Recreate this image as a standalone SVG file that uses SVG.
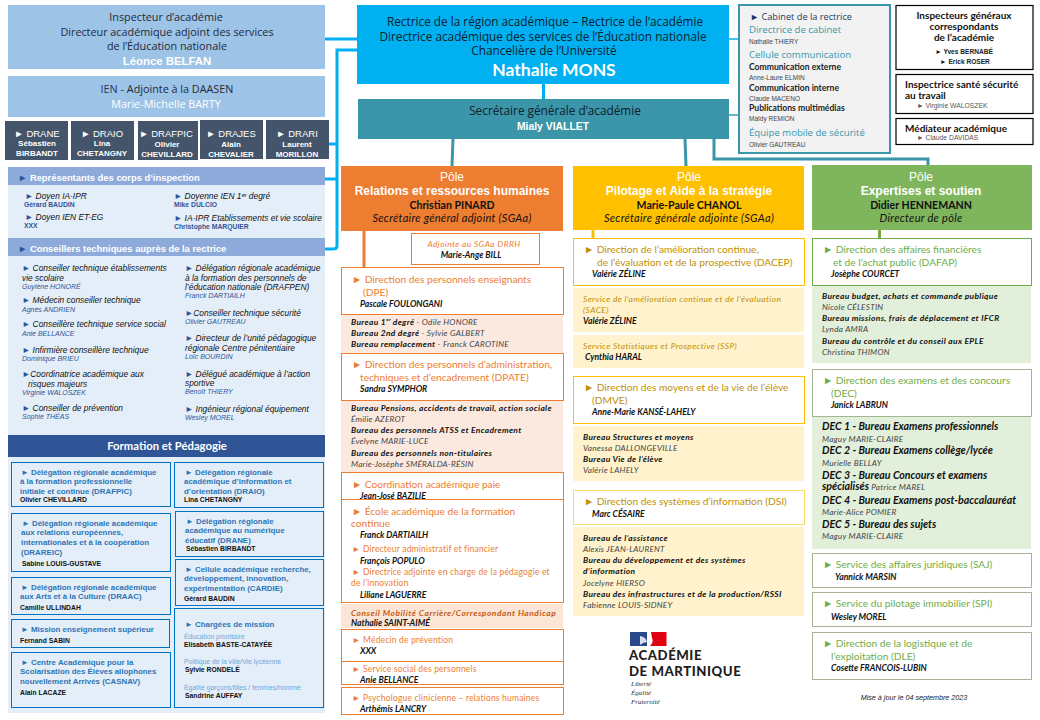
<svg xmlns="http://www.w3.org/2000/svg" width="1040" height="720" viewBox="0 0 1040 720">
<style>
text{font-family:"Liberation Sans",Arial,sans-serif;fill:#000;white-space:pre}
.c{text-anchor:middle}
.h{font-family:"Open Sans",Lato,sans-serif;font-size:10.8px;fill:#1d2b3a}
.hr{font-family:"Open Sans",Lato,sans-serif;font-size:11.8px;fill:#10202e}
.d{font-size:9.5px;fill:#fff}
.s{font-size:8px;fill:#fff;font-weight:bold}
.hd{font-size:9.4px;fill:#fff;font-weight:bold}
.li{font-size:8.4px;font-style:italic;fill:#111}
.nb{font-size:6.8px;font-weight:bold;fill:#2F5597}
.ni{font-size:7px;font-style:italic;fill:#2F5597}
.fb{font-size:7.9px;fill:#2E75B6;font-weight:bold}
.fn{font-size:6.8px;font-weight:bold;fill:#111}
.fl{font-size:6.8px;fill:#6FA8DC}
.pt{font-size:12px;fill:#fff}
.ptb{font-size:12px;fill:#fff;font-weight:bold}
.pn{font-family:Lato,sans-serif;font-size:10.6px;font-weight:bold;fill:#111}
.pi{font-family:Lato,sans-serif;font-size:11px;letter-spacing:.3px;font-style:italic;fill:#111}
.o,.y,.g{font-family:Lato,sans-serif;font-size:10.2px}
.o{fill:#ED7D31}.y{fill:#BF9000}.g{fill:#70AD47}
.o2{font-size:8.5px;letter-spacing:.2px}
.n{font-family:Lato,sans-serif;font-size:8.6px;font-style:italic;font-weight:bold;fill:#111}
.b{font-family:Lato,sans-serif;font-size:8.4px;letter-spacing:.35px;font-style:italic;font-weight:bold;fill:#111}
.r{font-family:Lato,sans-serif;font-size:8.2px;letter-spacing:.25px;font-style:italic;font-weight:normal;fill:#444}
.ib{font-family:Lato,sans-serif;font-size:8.4px;letter-spacing:.4px;font-style:italic;fill:#BF9000}
.dc{font-family:Lato,sans-serif;font-size:10.6px;font-style:italic;font-weight:bold;fill:#111}
.t{font-family:"Open Sans",Lato,sans-serif;font-size:9.6px;fill:#3A96A8}
.cb{font-family:Lato,sans-serif;font-size:8.6px;font-weight:bold;fill:#222}
.cr{font-size:6.5px;fill:#444}
.k{font-family:Lato,sans-serif;font-size:10px;font-weight:bold;fill:#111}
.kn{font-size:6.6px;font-weight:bold;fill:#222}
.kg{font-size:6.8px;fill:#555}
.box{fill:#fff;stroke-width:1}
.bo{stroke:#ED7D31}.by{stroke:#FFC000}.bg{stroke:#70AD47}.bv{stroke:#A5B592}
.fx{fill:#E4EEF8;stroke:#0070C0;stroke-width:1}
.con{fill:none;stroke-width:3}
.lg{font-family:Lato,sans-serif;font-size:13.2px;letter-spacing:.55px;font-weight:900;fill:#1e1e1e}
.lm{font-family:"Liberation Serif",serif;font-size:7px;font-style:italic;fill:#333}
</style>

<g id="connectors">
<path class="con" stroke="#00B0F0" d="M325 39H357M357 50H337V246Q337 249 333 249H325M329 144H337M325 179H337"/>
<path class="con" stroke="#00B0F0" d="M543.500 84V99"/>
<path d="M729 39H739" fill="none" stroke="#00B0F0" stroke-width="1.500"/>
<path d="M729 115H739" fill="none" stroke="#3A96A8" stroke-width="1.500"/>
<path class="con" stroke="#3A96A8" d="M453 139L452 166M685 139L686 166M714 139V159H928V165"/>
<path class="con" stroke="#ED7D31" d="M364 231V268"/>
<path class="con" stroke="#FFC000" d="M593 230V238"/>
<path class="con" stroke="#70AD47" d="M879.500 225V238"/>
</g>

<g id="inspecteur">
<rect x="8" y="5" width="317" height="64" fill="#9DC3E6"/>
<text class="h c" x="166" y="21">Inspecteur d’académie</text>
<text class="h c" x="167" y="36">Directeur académique adjoint des services</text>
<text class="h c" x="167" y="50">de l’Éducation nationale</text>
<text class="c" x="167" y="65" style="fill:#fff;font-size:11.400px;font-weight:bold">Léonce BELFAN</text>
</g>
<g id="ien">
<rect x="8" y="76" width="317" height="41" fill="#9DC3E6"/>
<text class="h c" x="167" y="93"><tspan fill="#1F3864">IEN</tspan> - Adjointe à la DAASEN</text>
<text class="h c" x="166" y="108" style="fill:#fff">Marie-Michelle BARTY</text>
</g>
<g id="drane"><rect x="5" y="121" width="63" height="39" fill="#44546A"/>
<text class="d c" x="37" y="137">► DRANE</text><text class="s c" x="37" y="146">Sébastien</text><text class="s c" x="37" y="156">BIRBANDT</text></g>
<g id="draio"><rect x="71" y="121" width="63" height="39" fill="#44546A"/>
<text class="d c" x="102" y="137">► DRAIO</text><text class="s c" x="102" y="146">Lina</text><text class="s c" x="102" y="156">CHETANGNY</text></g>
<g id="drafpic"><rect x="138" y="121" width="60" height="39" fill="#44546A"/>
<text class="d c" x="166" y="137">► DRAFPIC</text><text class="s c" x="167" y="147">Olivier</text><text class="s c" x="167" y="157">CHEVILLARD</text></g>
<g id="drajes"><rect x="200" y="120" width="63" height="39" fill="#44546A"/>
<text class="d c" x="231" y="137">► DRAJES</text><text class="s c" x="231" y="147">Alain</text><text class="s c" x="231" y="157">CHEVALIER</text></g>
<g id="drari"><rect x="266" y="120" width="63" height="39" fill="#44546A"/>
<text class="d c" x="297" y="137">► DRARI</text><text class="s c" x="297" y="147">Laurent</text><text class="s c" x="297" y="157">MORILLON</text></g>

<g id="representants">
<rect x="8" y="185" width="317" height="53" fill="#E4EEF8"/>
<rect x="8" y="167" width="317" height="18" fill="#8EAADB"/>
<text class="hd" x="18" y="181"><tspan fill="#2F5597">►</tspan> Représentants des corps d’inspection</text>
<text class="li" x="25" y="199"><tspan fill="#2F5597">►</tspan> Doyen IA-IPR</text>
<text class="nb" x="24" y="207">Gérard BAUDIN</text>
<text class="li" x="25" y="220"><tspan fill="#2F5597">►</tspan> Doyen IEN ET-EG</text>
<text class="nb" x="24" y="228">XXX</text>
<text class="li" x="174" y="199"><tspan fill="#2F5597">►</tspan> Doyenne IEN 1ᵉʳ degré</text>
<text class="nb" x="174" y="207">Mike DULCIO</text>
<text class="li" x="174" y="221"><tspan fill="#2F5597">►</tspan> IA-IPR Etablissements et vie scolaire</text>
<text class="nb" x="174" y="229">Christophe MARQUIER</text>
</g>

<g id="conseillers">
<rect x="8" y="256" width="317" height="179" fill="#E4EEF8"/>
<rect x="8" y="238" width="317" height="18" fill="#8EAADB"/>
<text class="hd" x="18" y="252"><tspan fill="#2F5597">►</tspan> Conseillers techniques auprès de la rectrice</text>
<text class="li" x="22" y="271"><tspan fill="#2F5597">►</tspan> Conseiller technique établissements</text>
<text class="li" x="22" y="281">vie scolaire</text>
<text class="ni" x="22" y="288.500">Guylène HONORÉ</text>
<text class="li" x="22" y="303"><tspan fill="#2F5597">►</tspan> Médecin conseiller technique</text>
<text class="ni" x="22" y="312">Agnès ANDRIEN</text>
<text class="li" x="22" y="327"><tspan fill="#2F5597">►</tspan> Conseillère technique service social</text>
<text class="ni" x="22" y="336">Anie BELLANCE</text>
<text class="li" x="22" y="353"><tspan fill="#2F5597">►</tspan> Infirmière conseillère technique</text>
<text class="ni" x="22" y="361">Dominique BRIEU</text>
<text class="li" x="22" y="377"><tspan fill="#2F5597">►</tspan>Coordinatrice académique aux</text>
<text class="li" x="28" y="387">risques majeurs</text>
<text class="ni" x="22" y="395">Virginie WALOSZEK</text>
<text class="li" x="22" y="411"><tspan fill="#2F5597">►</tspan> Conseiller de prévention</text>
<text class="ni" x="22" y="419">Sophie THÉAS</text>
<text class="li" x="185" y="271"><tspan fill="#2F5597">►</tspan> Délégation régionale académique</text>
<text class="li" x="185" y="281">à la formation des personnels de</text>
<text class="li" x="185" y="290">l’éducation nationale (DRAFPEN)</text>
<text class="ni" x="185" y="298">Franck DARTIAILH</text>
<text class="li" x="185" y="316"><tspan fill="#2F5597">►</tspan>Conseiller technique sécurité</text>
<text class="ni" x="185" y="324">Olivier GAUTREAU</text>
<text class="li" x="185" y="341"><tspan fill="#2F5597">►</tspan> Directeur de l’unité pédagogique</text>
<text class="li" x="185" y="351">régionale Centre pénitentiaire</text>
<text class="ni" x="185" y="359">Loïc BOURDIN</text>
<text class="li" x="185" y="377"><tspan fill="#2F5597">►</tspan> Délégué académique à l’action</text>
<text class="li" x="185" y="386">sportive</text>
<text class="ni" x="185" y="394">Benoît THIERY</text>
<text class="li" x="185" y="412"><tspan fill="#2F5597">►</tspan> Ingénieur régional équipement</text>
<text class="ni" x="185" y="420">Wesley MOREL</text>
</g>

<g id="formation">
<rect x="8" y="457" width="317" height="256" fill="#E4EEF8"/>
<rect x="8" y="435" width="317" height="22" fill="#2F5597"/>
<text class="c" x="167" y="450" style="fill:#fff;font-family:Lato,sans-serif;font-size:11.300px;font-weight:bold">Formation et Pédagogie</text>
</g>
<g id="drafpic-box"><rect class="fx" x="11.500" y="462.500" width="159" height="44"/>
<text class="fb" x="21" y="475">► Délégation régionale académique</text><text class="fb" x="20" y="484">à la formation professionnelle</text><text class="fb" x="20" y="494">initiale et continue (DRAFPIC)</text><text class="fn" x="20" y="502">Olivier CHEVILLARD</text></g>
<g id="draio-box"><rect class="fx" x="174.500" y="462.500" width="149" height="45"/>
<text class="fb" x="185" y="475">► Délégation régionale</text><text class="fb" x="184" y="484">académique d’information et</text><text class="fb" x="184" y="494">d’orientation (DRAIO)</text><text class="fn" x="184" y="502">Lina CHETANGNY</text></g>
<g id="drareic-box"><rect class="fx" x="11.500" y="513.500" width="159" height="58"/>
<text class="fb" x="22" y="526">► Délégation régionale académique</text><text class="fb" x="21" y="535">aux relations européennes,</text><text class="fb" x="21" y="545">internationales et à la coopération</text><text class="fb" x="21" y="555">(DRAREIC)</text><text class="fn" x="22" y="566">Sabine LOUIS-GUSTAVE</text></g>
<g id="drane-box"><rect class="fx" x="175.500" y="511.500" width="148" height="45"/>
<text class="fb" x="186" y="524">► Délégation régionale</text><text class="fb" x="185" y="533">académique au numérique</text><text class="fb" x="185" y="543">éducatif (DRANE)</text><text class="fn" x="186" y="551">Sébastien BIRBANDT</text></g>
<g id="draac-box"><rect class="fx" x="11.500" y="577.500" width="159" height="37"/>
<text class="fb" x="21" y="590">► Délégation régionale académique</text><text class="fb" x="20" y="599">aux Arts et à la Culture (DRAAC)</text><text class="fn" x="20" y="610">Camille ULLINDAH</text></g>
<g id="cardie-box"><rect class="fx" x="175.500" y="559.500" width="148" height="46"/>
<text class="fb" x="185" y="572">► Cellule académique recherche,</text><text class="fb" x="184" y="581">développement, innovation,</text><text class="fb" x="184" y="591">expérimentation (CARDIE)</text><text class="fn" x="184" y="601">Gérard BAUDIN</text></g>
<g id="mission-box"><rect class="fx" x="11.500" y="619.500" width="158" height="28"/>
<text class="fb" x="21" y="632">► Mission enseignement supérieur</text><text class="fn" x="20" y="643">Fernand SABIN</text></g>
<g id="casnav-box"><rect class="fx" x="11.500" y="652.500" width="159" height="55"/>
<text class="fb" x="21" y="665">► Centre Académique pour la</text><text class="fb" x="20" y="674">Scolarisation des Élèves allophones</text><text class="fb" x="20" y="684">nouvellement Arrivés (CASNAV)</text><text class="fn" x="20" y="695">Alain LACAZE</text></g>
<g id="charges-box"><rect class="fx" x="174.500" y="608.500" width="149" height="99"/>
<text class="fb" x="185" y="627">► Chargées de mission</text>
<text class="fl" x="184" y="639">Éducation prioritaire</text><text class="fn" x="184" y="647">Elisabeth BASTE-CATAYÉE</text>
<text class="fl" x="184" y="664">Politique de la ville/Vie lycéenne</text><text class="fn" x="185" y="672">Sylvie RONDELÉ</text>
<text class="fl" x="184" y="690">Égalité garçons/filles / femmes/homme</text><text class="fn" x="185" y="698">Sandrine AUFFAY</text></g>

<g id="rectrice">
<rect x="357" y="5" width="372" height="79" fill="#00B0F0"/>
<text class="hr c" x="545" y="26">Rectrice de la région académique – Rectrice de l’académie</text>
<text class="hr c" x="543" y="41">Directrice académique des services de l’Éducation nationale</text>
<text class="hr c" x="544" y="55">Chancelière de l’Université</text>
<text class="c" x="554" y="76" style="fill:#fff;font-family:Lato,sans-serif;font-size:17.500px;font-weight:bold">Nathalie MONS</text>
</g>
<g id="secretaire">
<rect x="358" y="99" width="371" height="40" fill="#3A96A8"/>
<text class="hr c" x="555" y="115">Secrétaire générale d’académie</text>
<text class="c" x="553" y="130" style="fill:#fff;font-size:10.400px;font-weight:bold">Mialy VIALLET</text>
</g>

<g id="cabinet">
<rect x="739" y="5" width="151" height="148" fill="#F2F2F2" stroke="#3A96A8" stroke-width="2"/>
<text x="750" y="20" style="fill:#1F3864;font-family:'Open Sans',sans-serif;font-size:9.200px">► Cabinet de la rectrice</text>
<text class="t" x="749" y="33">Directrice de cabinet</text>
<text class="cr" x="749" y="44">Nathalie THIERY</text>
<text class="t" x="749" y="58">Cellule communication</text>
<text class="cb" x="749" y="70">Communication externe</text>
<text class="cr" x="749" y="80">Anne-Laure ELMIN</text>
<text class="cb" x="749" y="91">Communication interne</text>
<text class="cr" x="749" y="101">Claude MACENO</text>
<text class="cb" x="749" y="111">Publications multimédias</text>
<text class="cr" x="749" y="121">Maïdy REMION</text>
<text class="t" x="749" y="136">Équipe mobile de sécurité</text>
<text class="cr" x="749" y="147">Olivier GAUTREAU</text>
</g>
<g id="inspecteurs-generaux">
<rect x="896" y="5.500" width="137" height="64" fill="#fff" stroke="#000" stroke-width="1.200"/>
<text class="k c" x="964" y="19">Inspecteurs généraux</text>
<text class="k c" x="964" y="30">correspondants</text>
<text class="k c" x="964" y="41">de l’académie</text>
<text class="kn c" x="964" y="54">► Yves BERNABÉ</text>
<text class="kn c" x="965" y="64">► Erick ROSER</text>
</g>
<g id="inspectrice-sante">
<rect x="896" y="74.500" width="137" height="39" fill="#fff" stroke="#000" stroke-width="1.200"/>
<text class="k" x="905" y="88">Inspectrice santé sécurité</text>
<text class="k" x="905" y="99">au travail</text>
<text class="kg" x="917" y="108">► Virginie WALOSZEK</text>
</g>
<g id="mediateur">
<rect x="896" y="118.500" width="137" height="26" fill="#fff" stroke="#000" stroke-width="1.200"/>
<text class="k" x="905" y="132">Médiateur académique</text>
<text class="kg" x="917" y="140">► Claude DAVIDAS</text>
</g>

<g id="pole-rh">
<rect x="341" y="166" width="222" height="65" fill="#ED7D31"/>
<text class="pt c" x="452" y="181">Pôle</text>
<text class="ptb c" x="452" y="195">Relations et ressources humaines</text>
<text class="pn c" x="452" y="209">Christian PINARD</text>
<text class="pi c" x="452" y="222">Secrétaire général adjoint (SGAa)</text>
</g>
<g id="adjointe"><rect class="box bo" x="411.500" y="233.500" width="128" height="31"/>
<text class="ib c" x="474" y="247" style="fill:#ED7D31">Adjointe au SGAa DRRH</text><text class="n c" x="471" y="258">Marie-Ange BILL</text></g>
<g id="dpe"><rect class="box bo" x="341.500" y="267.500" width="222" height="47"/>
<text class="o" x="352" y="283">► Direction des personnels enseignants</text><text class="o" x="363" y="296">(DPE)</text><text class="n" x="360" y="307">Pascale FOULONGANI</text></g>
<g id="dpe-bureaux"><rect x="341" y="315" width="222" height="38" fill="#FBE9DF"/>
<text class="b" x="351" y="325">Bureau 1ᵉʳ degré <tspan class="r">- Odile HONORE</tspan></text>
<text class="b" x="351" y="336">Bureau 2nd degré <tspan class="r">- Sylvie GALBERT</tspan></text>
<text class="b" x="351" y="347">Bureau remplacement <tspan class="r">- Franck CAROTINE</tspan></text></g>
<g id="dpate"><rect class="box bo" x="341.500" y="353.500" width="222" height="47"/>
<text class="o" x="352" y="368">► Direction des personnels d’administration,</text><text class="o" x="360" y="381">techniques et d’encadrement (DPATE)</text><text class="n" x="360" y="392">Sandra SYMPHOR</text></g>
<g id="dpate-bureaux"><rect x="341" y="401" width="222" height="71" fill="#FBE9DF"/>
<text class="b" x="351" y="411">Bureau Pensions, accidents de travail, action sociale</text>
<text class="r" x="351" y="422">Émilie AZEROT</text>
<text class="b" x="351" y="433">Bureau des personnels ATSS et Encadrement</text>
<text class="r" x="351" y="444">Évelyne MARIE-LUCE</text>
<text class="b" x="351" y="456">Bureau des personnels non-titulaires</text>
<text class="r" x="351" y="467">Marie-Josèphe SMÉRALDA-RÉSIN</text></g>
<g id="coordination"><rect class="box bo" x="341.500" y="472.500" width="222" height="27"/>
<text class="o" x="352" y="487.500">► Coordination académique paie</text><text class="n" x="360" y="499">Jean-José BAZILIE</text></g>
<g id="ecole"><rect class="box bo" x="341.500" y="499.500" width="222" height="103"/>
<text class="o" x="352" y="514.500">► École académique de la formation</text><text class="o" x="351" y="527">continue</text><text class="n" x="360" y="538">Franck DARTIAILH</text>
<text class="o o2" x="352" y="552">► Directeur administratif et financier</text><text class="n" x="360" y="564">François POPULO</text>
<text class="o o2" x="352" y="575">► Directrice adjointe en charge de la pédagogie et</text><text class="o o2" x="351" y="586">de l’innovation</text><text class="n" x="360" y="598">Liliane LAGUERRE</text></g>
<g id="conseil"><rect x="341" y="604" width="222" height="24" fill="#FBE5D6"/>
<text class="ib" x="351" y="616" style="fill:#C55A11;font-weight:bold;letter-spacing:.55px">Conseil Mobilité Carrière/Correspondant Handicap</text><text class="n" x="351" y="626">Nathalie SAINT-AIMÉ</text></g>
<g id="medecin"><rect class="box bo" x="341.500" y="629.500" width="222" height="32"/>
<text class="o o2" x="352" y="643">► Médecin de prévention</text><text class="n" x="360" y="654">XXX</text></g>
<g id="service-social"><rect class="box bo" x="341.500" y="661.500" width="222" height="23"/>
<text class="o o2" x="352" y="672">► Service social des personnels</text><text class="n" x="360" y="683">Anie BELLANCE</text></g>
<g id="psychologue"><rect class="box bo" x="341.500" y="687.500" width="222" height="27"/>
<text class="o o2" x="352" y="701">► Psychologue clinicienne – relations humaines</text><text class="n" x="360" y="712">Arthémis LANCRY</text></g>

<g id="pole-pilotage">
<rect x="573" y="166" width="231" height="64" fill="#FFC000"/>
<text class="pt c" x="689" y="181">Pôle</text>
<text class="ptb c" x="689" y="195">Pilotage et Aide à la stratégie</text>
<text class="pn c" x="689" y="209">Marie-Paule CHANOL</text>
<text class="pi c" x="689" y="222">Secrétaire générale adjointe (SGAa)</text>
</g>
<g id="dacep"><rect class="box by" x="573.500" y="238.500" width="231" height="47"/>
<text class="y" x="584" y="253">► Direction de l’amélioration continue,</text><text class="y" x="597" y="266">de l’évaluation et de la prospective (DACEP)</text><text class="n" x="592" y="277">Valérie ZÉLINE</text></g>
<g id="sace"><rect x="573" y="288" width="231" height="44" fill="#FFF2CC"/>
<text class="ib" x="583" y="302">Service de l’amélioration continue et de l’évaluation</text><text class="ib" x="583" y="313">(SACE)</text><text class="n" x="583" y="324">Valérie ZÉLINE</text></g>
<g id="ssp"><rect x="573" y="335" width="231" height="33" fill="#FFF2CC"/>
<text class="ib" x="583" y="349">Service Statistiques et Prospective (SSP)</text><text class="n" x="585" y="360">Cynthia HARAL</text></g>
<g id="dmve"><rect class="box by" x="573.500" y="376.500" width="231" height="47"/>
<text class="y" x="584" y="391">► Direction des moyens et de la vie de l’élève</text><text class="y" x="592" y="404">(DMVE)</text><text class="n" x="592" y="415">Anne-Marie KANSÉ-LAHELY</text></g>
<g id="dmve-bureaux"><rect x="573" y="426" width="231" height="55" fill="#FFF2CC"/>
<text class="b" x="583" y="440">Bureau Structures et moyens</text><text class="r" x="583" y="451">Vanessa DALLONGEVILLE</text><text class="b" x="583" y="462">Bureau Vie de l’élève</text><text class="r" x="583" y="473">Valérie LAHELY</text></g>
<g id="dsi"><rect class="box" stroke="#FFD966" x="573.500" y="490.500" width="231" height="34"/>
<text class="y" x="584" y="505">► Direction des systèmes d’information (DSI)</text><text class="n" x="592" y="517">Marc CÉSAIRE</text></g>
<g id="dsi-bureaux"><rect x="573" y="527" width="231" height="89" fill="#FFF2CC"/>
<text class="b" x="583" y="541">Bureau de l’assistance</text><text class="r" x="583" y="552">Alexis JEAN-LAURENT</text><text class="b" x="583" y="563">Bureau du développement et des systèmes</text><text class="b" x="583" y="574">d’information</text><text class="r" x="583" y="586">Jocelyne HIERSO</text><text class="b" x="583" y="597">Bureau des infrastructures et de la production/RSSI</text><text class="r" x="583" y="608">Fabienne LOUIS-SIDNEY</text></g>

<g id="logo">
<rect x="630" y="632" width="17" height="14" fill="#27488A"/>
<rect x="647" y="632" width="4" height="14" fill="#fff"/>
<path d="M651 632H666.500V646H650Q654 642 652 638Z" fill="#E1000F"/>
<path d="M640 636Q646 637 647 642L643 643L640 645Z" fill="#D8DEEA"/>
<text class="lg" x="629" y="660">ACADÉMIE</text>
<text class="lg" x="629" y="676">DE MARTINIQUE</text>
<text class="lm" x="631" y="686">Liberté</text>
<text class="lm" x="631" y="695">Égalité</text>
<text class="lm" x="631" y="704">Fraternité</text>
</g>

<g id="pole-expertises">
<rect x="812" y="165" width="220" height="65" fill="#7FB65D"/>
<text class="pt c" x="921" y="181">Pôle</text>
<text class="ptb c" x="921" y="195">Expertises et soutien</text>
<text class="pn c" x="921" y="209">Didier HENNEMANN</text>
<text class="pi c" x="921" y="222">Directeur de pôle</text>
</g>
<g id="dafap"><rect class="box bg" x="812.500" y="238.500" width="219" height="47"/>
<text class="g" x="823" y="253">► Direction des affaires financières</text><text class="g" x="833" y="266">et de l’achat public (DAFAP)</text><text class="n" x="831" y="277">Josèphe COURCET</text></g>
<g id="dafap-bureaux"><rect x="812" y="286" width="219" height="77" fill="#E2EFDA"/>
<text class="b" x="822" y="299">Bureau budget, achats et commande publique</text><text class="r" x="822" y="310">Nicole CÉLESTIN</text><text class="b" x="822" y="321">Bureau missions, frais de déplacement et IFCR</text><text class="r" x="822" y="332">Lynda AMRA</text><text class="b" x="822" y="344">Bureau du contrôle et du conseil aux EPLE</text><text class="r" x="822" y="355">Christina THIMON</text></g>
<g id="dec"><rect class="box bv" x="812.500" y="369.500" width="219" height="47"/>
<text class="g" x="823" y="384">► Direction des examens et des concours</text><text class="g" x="831" y="397">(DEC)</text><text class="n" x="831" y="408">Janick LABRUN</text></g>
<g id="dec-bureaux"><rect x="812" y="417" width="219" height="132" fill="#E2EFDA"/>
<text class="dc" x="822" y="430">DEC 1 - Bureau Examens professionnels</text><text class="r" x="822" y="442">Maguy MARIE-CLAIRE</text>
<text class="dc" x="822" y="454">DEC 2 - Bureau Examens collège/lycée</text><text class="r" x="822" y="466">Murielle BELLAY</text>
<text class="dc" x="822" y="478.500">DEC 3 - Bureau Concours et examens</text>
<text class="dc" x="822" y="490">spécialisés <tspan class="r">Patrice MAREL</tspan></text>
<text class="dc" x="822" y="504">DEC 4 - Bureau Examens post-baccalauréat</text><text class="r" x="822" y="515">Marie-Alice POMIER</text>
<text class="dc" x="822" y="528">DEC 5 - Bureau des sujets</text><text class="r" x="822" y="539">Maguy MARIE-CLAIRE</text></g>
<g id="saj"><rect class="box bv" x="812.500" y="553.500" width="219" height="34"/>
<text class="g" x="823" y="568">► Service des affaires juridiques (SAJ)</text><text class="n" x="835" y="580">Yannick MARSIN</text></g>
<g id="spi"><rect class="box bv" x="812.500" y="592.500" width="219" height="34"/>
<text class="g" x="823" y="607">► Service du pilotage immobilier (SPI)</text><text class="n" x="831" y="620">Wesley MOREL</text></g>
<g id="dle"><rect class="box bv" x="812.500" y="632.500" width="219" height="47"/>
<text class="g" x="823" y="647">► Direction de la logistique et de</text><text class="g" x="831" y="660">l’exploitation (DLE)</text><text class="n" x="831" y="671">Cosette FRANCOIS-LUBIN</text></g>
<text class="c" x="914" y="700" style="font-size:7.200px;font-style:italic;fill:#222">Mise à jour le 04 septembre 2023</text>
</svg>
